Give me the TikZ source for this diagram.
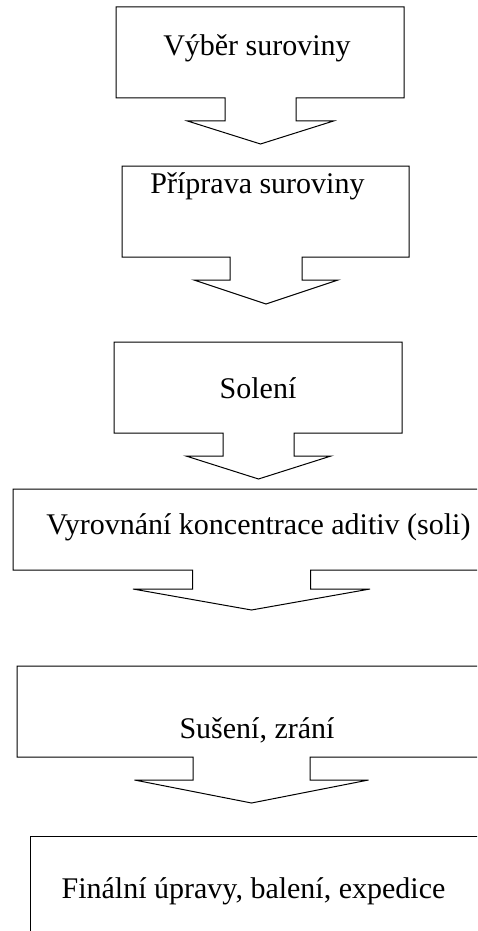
\documentclass[tikz,border=0pt]{standalone}
\usepackage{fontspec}
\setmainfont{Liberation Serif}
\usepackage{tikz}
\usetikzlibrary{positioning, calc}

\tikzset{
    steptext/.style={anchor=base, inner sep=0pt, font=\fontsize{30}{36}\selectfont},
    outline/.style={draw, line width=1pt, line join=miter}
}

% box with a down arrow: left, top, right, bottom, axis, stem half width, stem end, wing half width, tip
\newcommand{\downcallout}[9]{%
    \draw[outline] (#5-#6,#4) -- (#1,#4) -- (#1,#2) -- (#3,#2) -- (#3,#4) -- (#5+#6,#4)
        -- (#5+#6,#7) -- (#5+#8,#7) -- (#5,#9) -- (#5-#8,#7) -- (#5-#6,#7) -- cycle;
}

\begin{document}
\begin{tikzpicture}[x=1pt, y=-1pt]
    \useasboundingbox (0,0) rectangle (477,931);
    \clip (0,0) rectangle (477,931);

    % Step 1
    \downcallout{116}{7}{404}{98}{260.5}{35.5}{121}{73}{144}
    \node[steptext] (vyber) at (257,56) {Výběr suroviny};

    % Step 2
    \downcallout{122}{166}{409}{257}{266}{36}{280}{72}{304}
    \node[steptext] (priprava) at (257.5,193) {Příprava suroviny};

    % Step 3
    \downcallout{114}{342}{402}{433}{258.5}{35.5}{456}{72.5}{479}
    \node[steptext] (soleni) at (258,398) {Solení};

    % Step 4
    \downcallout{13}{489}{491}{570}{251.5}{59}{589}{118.5}{610}
    \node[steptext] (vyrovnani) at (258.5,534) {Vyrovnání koncentrace aditiv (soli)};

    % Step 5
    \downcallout{17}{666}{487}{757}{251.5}{58.5}{780}{117}{803}
    \node[steptext] (suseni) at (257,738) {Sušení, zrání};

    % Step 6 (no arrow)
    \draw[outline] (30,836) rectangle (495,960);
    \node[steptext] (finalni) at (253.5,898) {Finální úpravy, balení, expedice};
\end{tikzpicture}
\end{document}
